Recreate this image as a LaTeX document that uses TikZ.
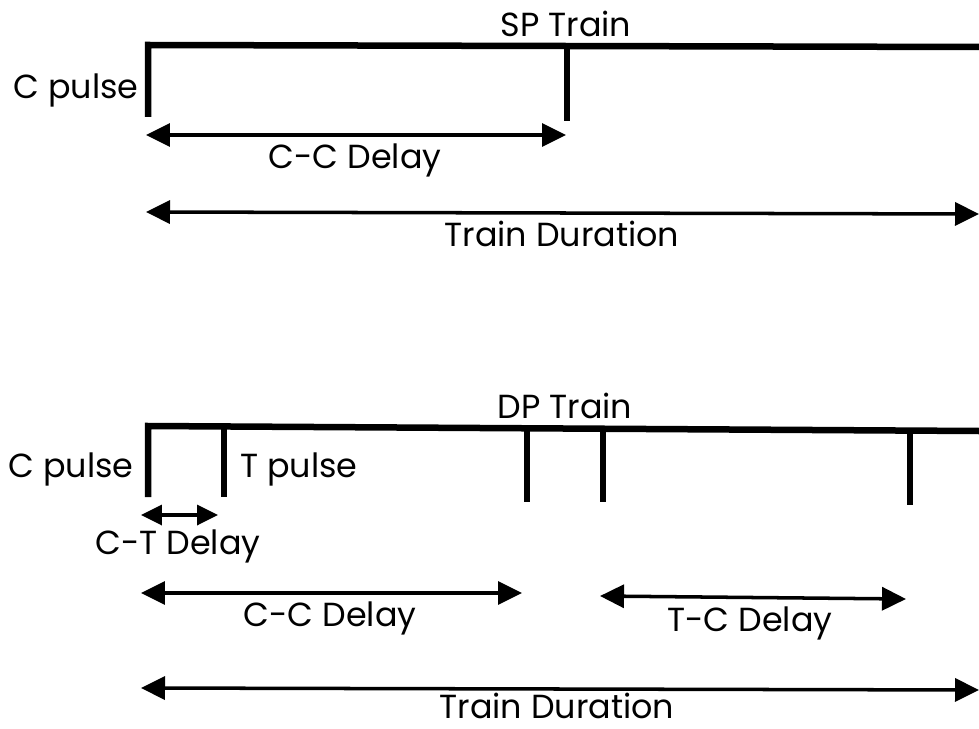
\documentclass[tikz,border=0pt]{standalone}
\usepackage{fontspec}
\setmainfont{Poppins}
\usetikzlibrary{arrows.meta}
\begin{document}
\begin{tikzpicture}[x=0.02cm, y=-0.02cm,
  pulse line/.style={line width=3.7pt, line join=miter},
  span arrow/.style={line width=2pt, {Triangle[length=0.48cm,width=0.46cm]}-{Triangle[length=0.48cm,width=0.46cm]}},
  label text/.style={font=\fontsize{19}{22}\selectfont, inner sep=0pt, anchor=base}]
\useasboundingbox (0,0) rectangle (979,729);

% SP train
\coordinate (sp0top) at (148,45);
\coordinate (sp0bot) at (148,117);
\coordinate (sp1top) at (567,46);
\coordinate (sp1bot) at (567,121);
\coordinate (spend) at (979,47);
\node[label text] (sptitle) at (566,37) {SP Train};
\node[label text, anchor=base east] (spc) at (139,99) {C pulse};

\draw[pulse line] (sp0bot) -- (sp0top) -- (spend);
\draw[pulse line] (sp1top) -- (sp1bot);

\coordinate (spcca) at (146,135);
\coordinate (spccb) at (566,135);
\coordinate (spdura) at (146,212);
\coordinate (spdurb) at (979,214);
\path[span arrow]
(spcca) edge (spccb)
(spdura) edge (spdurb);
\node[label text] (spcc) at (355,169) {C-C Delay};
\node[label text] (spdur) at (562,247) {Train Duration};

% DP train
\coordinate (dp0top) at (148,426);
\coordinate (dp0bot) at (148,497);
\coordinate (dp1top) at (224,427);
\coordinate (dp1bot) at (224,497);
\coordinate (dp2top) at (527,428);
\coordinate (dp2bot) at (527,502);
\coordinate (dp3top) at (603,428);
\coordinate (dp3bot) at (603,502);
\coordinate (dp4top) at (910,431);
\coordinate (dp4bot) at (910,505);
\coordinate (dpend) at (979,431);
\node[label text] (dptitle) at (565,418) {DP Train};
\node[label text, anchor=base east] (dpc) at (134,477) {C pulse};
\node[label text, anchor=base west] (dpt) at (240,477) {T pulse};

\draw[pulse line] (dp0bot) -- (dp0top) -- (dpend);
\foreach \i in {1,...,4}
  \draw[pulse line] (dp\i top) -- (dp\i bot);

\coordinate (dpcta) at (141,515);
\coordinate (dpctb) at (218,515);
\coordinate (dpcca) at (141,593);
\coordinate (dpccb) at (522,593);
\coordinate (dptca) at (600,596);
\coordinate (dptcb) at (906,599);
\coordinate (dpdura) at (141,688);
\coordinate (dpdurb) at (979,690);
\path[span arrow]
(dpcta) edge[{Triangle[length=0.42cm,width=0.4cm]}-{Triangle[length=0.42cm,width=0.4cm]}] (dpctb)
(dpcca) edge (dpccb)
(dptca) edge (dptcb)
(dpdura) edge (dpdurb);
\node[label text] (dpct) at (178,554) {C-T Delay};
\node[label text] (dpcc) at (330,626) {C-C Delay};
\node[label text] (dptc) at (750,631) {T-C Delay};
\node[label text] (dpdur) at (557,718) {Train Duration};
\end{tikzpicture}
\end{document}
